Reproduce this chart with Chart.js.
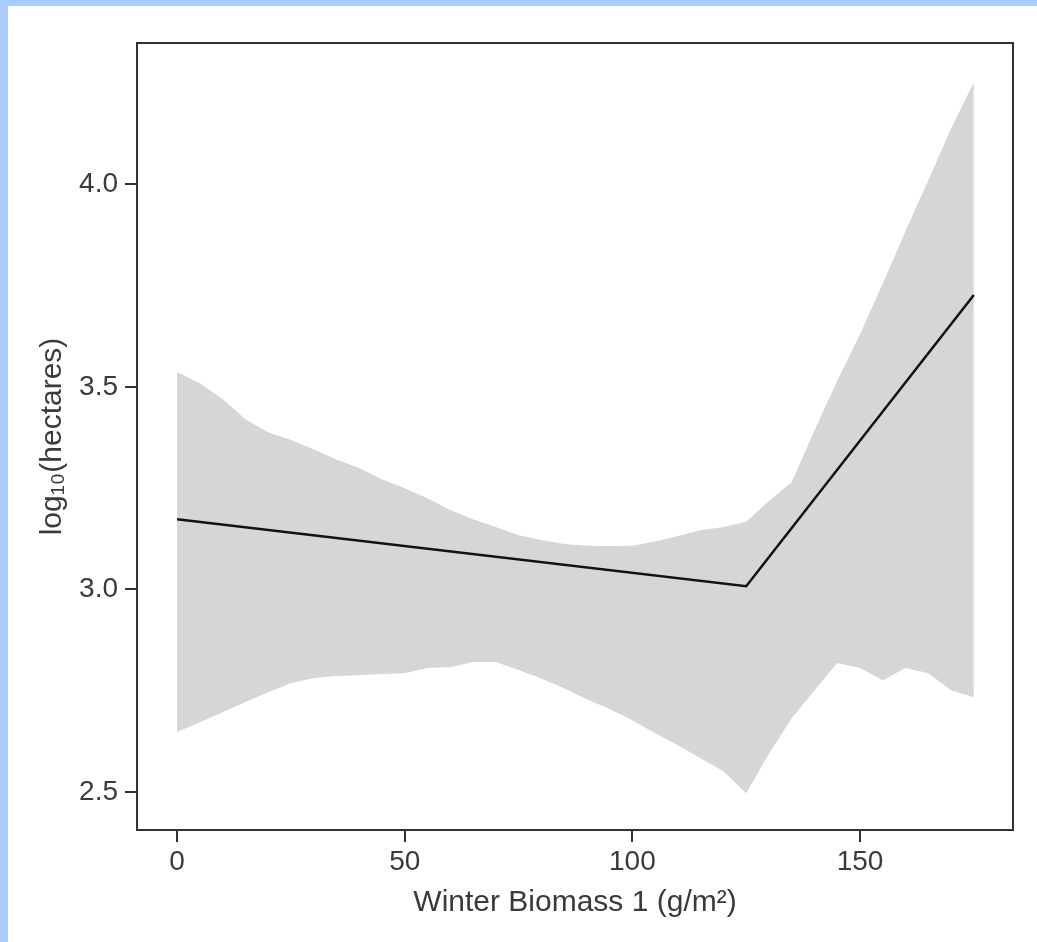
<!DOCTYPE html>
<html>
<head>
<meta charset="utf-8">
<script src="https://cdn.jsdelivr.net/npm/chart.js@4/dist/chart.umd.min.js"></script>
<style>
  html, body { margin: 0; padding: 0; background: #abcdfd; }
  #wrap { position: absolute; left: 8px; top: 6px; width: 1029px; height: 936px; background: #fff; }
</style>
</head>
<body>
<div id="wrap"><canvas id="chart" width="1029" height="936"></canvas></div>
<script>

/* DATA */

const bandX = [0, 5, 10, 15, 20, 25, 30, 35, 40, 45, 50, 55, 60, 65, 70, 75, 80, 85,
               90, 95, 100, 105, 110, 115, 120, 125, 130, 135, 140, 145, 150, 155, 160, 165, 170, 175];

const upperCI = [3.537, 3.509, 3.470, 3.420, 3.388, 3.369, 3.346, 3.321, 3.300, 3.272, 3.250, 3.225,
                 3.196, 3.173, 3.154, 3.134, 3.122, 3.112, 3.108, 3.107, 3.108, 3.118, 3.132, 3.146,
                 3.154, 3.167, 3.218, 3.265, 3.393, 3.515, 3.630, 3.755, 3.885, 4.010, 4.138, 4.252];

const lowerCI = [2.648, 2.672, 2.697, 2.722, 2.746, 2.768, 2.781, 2.786, 2.788, 2.791, 2.793, 2.806,
                 2.808, 2.821, 2.821, 2.801, 2.780, 2.756, 2.729, 2.705, 2.677, 2.645, 2.615, 2.583,
                 2.551, 2.497, 2.594, 2.682, 2.751, 2.818, 2.806, 2.776, 2.806, 2.793, 2.751, 2.734];

const fitX = [0, 125, 175];
const fitY = [3.173, 3.008, 3.727];

const xTicks = [0, 50, 100, 150];
const yTicks = [2.5, 3.0, 3.5, 4.0];

const xTitle = "Winter Biomass 1 (g/m²)";
const yTitle = "log₁₀(hectares)";

/* CHART */

const tickFont = { family: "'Liberation Sans', Arial, sans-serif", size: 28 };
const titleFont = { family: "'Liberation Sans', Arial, sans-serif", size: 30 };
const textColor = "#3a3a3a";

const toPoints = (xs, ys) => xs.map((x, i) => ({ x: x, y: ys[i] }));

// full box around the plot region
const boxPlugin = {
    id: "box",
    afterDatasetsDraw(chart){
        const a = chart.chartArea;
        const ctx = chart.ctx;
        ctx.save();
        ctx.strokeStyle = "#333";
        ctx.lineWidth = 2;
        ctx.strokeRect(a.left, a.top, a.right - a.left, a.bottom - a.top);
        ctx.restore();
    }
};

new Chart(document.getElementById("chart"), {

    type: "line",

    data: {
        datasets: [
            {
                data: toPoints(bandX, upperCI),
                borderWidth: 0,
                pointRadius: 0,
                backgroundColor: "#d6d6d6",
                fill: "+1",
                tension: 0,
                order: 2
            },
            {
                data: toPoints(bandX, lowerCI),
                borderWidth: 0,
                pointRadius: 0,
                fill: false,
                tension: 0,
                order: 2
            },
            {
                data: toPoints(fitX, fitY),
                borderColor: "#111",
                borderWidth: 2.5,
                pointRadius: 0,
                fill: false,
                tension: 0,
                order: 0
            }
        ]
    },

    options: {
        responsive: false,
        devicePixelRatio: 1,
        animation: false,
        layout: { padding: { left: 0, right: 24, top: 37, bottom: 0 } },
        plugins: { legend: { display: false }, tooltip: { enabled: false } },
        scales: {
            x: {
                type: "linear",
                min: -8.8,
                max: 183.6,
                afterFit(scale){ scale.height = 112; },
                afterBuildTicks(scale){ scale.ticks = xTicks.map(v => ({ value: v })); },
                border: { display: false },
                grid: { drawOnChartArea: false, drawTicks: true, tickLength: 12, color: "#333", lineWidth: 2 },
                ticks: { font: tickFont, color: textColor, padding: 3, maxRotation: 0 },
                title: { display: true, text: xTitle, font: titleFont, color: textColor, padding: { top: 0, bottom: 21 } }
            },
            y: {
                type: "linear",
                min: 2.406,
                max: 4.349,
                afterFit(scale){ scale.width = 129; },
                afterBuildTicks(scale){ scale.ticks = yTicks.map(v => ({ value: v })); },
                border: { display: false },
                grid: { drawOnChartArea: false, drawTicks: true, tickLength: 12, color: "#333", lineWidth: 2 },
                ticks: { font: tickFont, color: textColor, padding: 7, callback: v => v.toFixed(1) },
                title: { display: true, text: yTitle, font: titleFont, color: textColor, padding: { top: 27, bottom: 0 } }
            }
        }
    },

    plugins: [boxPlugin]

});

</script>
</body>
</html>
